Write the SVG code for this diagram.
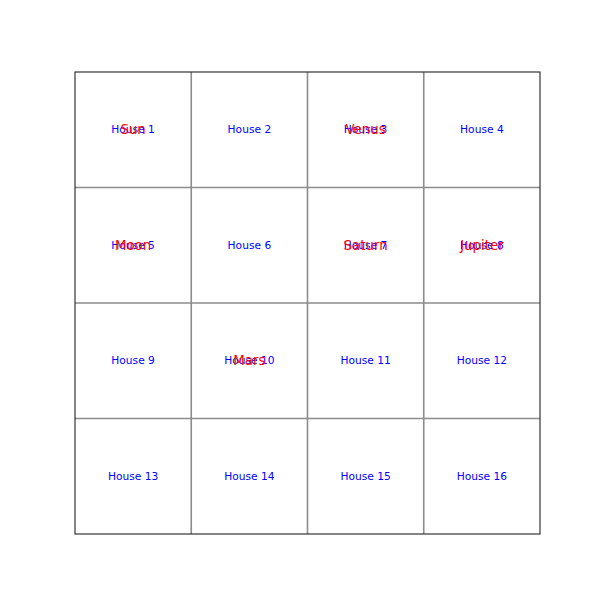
<svg xmlns="http://www.w3.org/2000/svg" width="600" height="600" viewBox="0 0 600 600">
<style>
.grid{stroke:#8c8c8c;stroke-width:1.6;fill:none}
.spine{stroke:#222;stroke-width:1.1;fill:none}
.h{font-family:"DejaVu Sans",sans-serif;font-size:10.67px;fill:#0000ff;text-anchor:middle;dominant-baseline:central}
.p{font-family:"DejaVu Sans",sans-serif;font-size:13.33px;fill:#ff0000;text-anchor:middle;dominant-baseline:central}
</style>
<rect width="600" height="600" fill="#fff"/>
<g id="connectors">
<path class="grid" d="M191.25 72V534M307.5 72V534M423.75 72V534M75 187.5H540M75 303H540M75 418.5H540"/>
<rect class="spine" x="75" y="72" width="465" height="462"/>
</g>
<g id="house1"><text class="h" x="133.1" y="129.75">House 1</text><text class="p" x="133.1" y="129.75">Sun</text></g>
<g id="house2"><text class="h" x="249.4" y="129.75">House 2</text></g>
<g id="house3"><text class="h" x="365.6" y="129.75">House 3</text><text class="p" x="365.6" y="129.75">Venus</text></g>
<g id="house4"><text class="h" x="481.9" y="129.75">House 4</text></g>
<g id="house5"><text class="h" x="133.1" y="245.25">House 5</text><text class="p" x="133.1" y="245.25">Moon</text></g>
<g id="house6"><text class="h" x="249.4" y="245.25">House 6</text></g>
<g id="house7"><text class="h" x="365.6" y="245.25">House 7</text><text class="p" x="365.6" y="245.25">Saturn</text></g>
<g id="house8"><text class="h" x="481.9" y="245.25">House 8</text><text class="p" x="481.9" y="245.25">Jupiter</text></g>
<g id="house9"><text class="h" x="133.1" y="360.75">House 9</text></g>
<g id="house10"><text class="h" x="249.4" y="360.75">House 10</text><text class="p" x="249.4" y="360.75">Mars</text></g>
<g id="house11"><text class="h" x="365.6" y="360.75">House 11</text></g>
<g id="house12"><text class="h" x="481.9" y="360.75">House 12</text></g>
<g id="house13"><text class="h" x="133.1" y="476.25">House 13</text></g>
<g id="house14"><text class="h" x="249.4" y="476.25">House 14</text></g>
<g id="house15"><text class="h" x="365.6" y="476.25">House 15</text></g>
<g id="house16"><text class="h" x="481.9" y="476.25">House 16</text></g>
</svg>
